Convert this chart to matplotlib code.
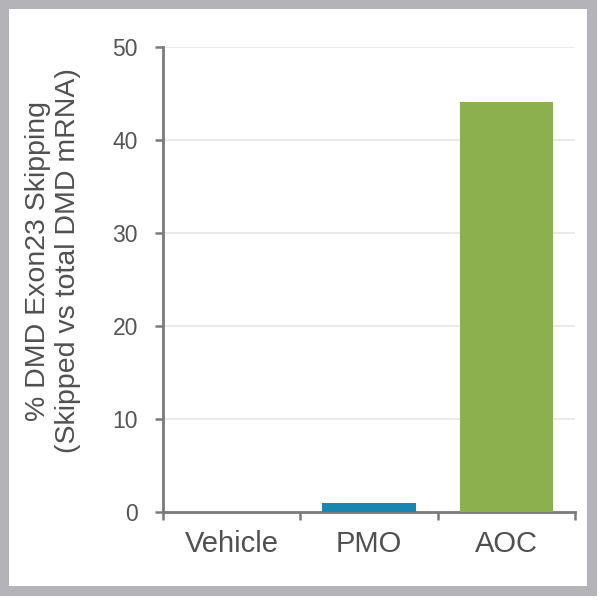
import matplotlib
matplotlib.use("Agg")
import matplotlib.pyplot as plt
from matplotlib.patches import Rectangle

categories = ["Vehicle", "PMO", "AOC"]
values = [0.0, 1.0, 44.1]
colors = ["#1a86b0", "#1a86b0", "#8db04f"]
yticks = [0, 10, 20, 30, 40, 50]
ylabel = "% DMD Exon23 Skipping\n(Skipped vs total DMD mRNA)"

plt.rcParams['font.family'] = ['Liberation Sans', 'DejaVu Sans']

fig = plt.figure(figsize=(6, 6), dpi=100)
fig.patch.set_facecolor("white")
# gray frame
fig.patches.append(Rectangle((0, 4/600), 597/600, 596/600, transform=fig.transFigure,
                             facecolor="#b4b4b8", edgecolor="none", zorder=-10))
fig.patches.append(Rectangle((9/600, 14/600), 578/600, 577/600, transform=fig.transFigure,
                             facecolor="white", edgecolor="none", zorder=-9))

ax = fig.add_axes([163/600, 1 - 512/600, 412/600, 465/600])
ax.set_facecolor("none")
x = list(range(len(categories)))
ax.bar(x, values, width=0.68, color=colors, zorder=3)

ax.set_xlim(-0.5, len(categories) - 0.5)
ax.set_ylim(0, 50)
ax.set_yticks(yticks)
ax.yaxis.grid(True, color="#e6e6e6", linewidth=1.2, zorder=0)
ax.set_axisbelow(True)

ax.set_xticks([i - 0.5 for i in range(len(categories) + 1)])
ax.set_xticklabels([])
ax.set_xticks(x, minor=True)
ax.set_xticklabels(categories, minor=True)
ax.tick_params(axis='x', which='minor', length=0, pad=13, labelsize=21, labelcolor="#505050")
ax.tick_params(axis='x', which='major', length=6, width=1.8, color="#7a7a7a", direction='out')
ax.tick_params(axis='y', length=6, width=1.8, color="#7a7a7a", direction='out',
               pad=12, labelsize=16.5, labelcolor="#555555")

for s in ["top", "right"]:
    ax.spines[s].set_visible(False)
for s in ["left", "bottom"]:
    ax.spines[s].set_color("#7a7a7a")
    ax.spines[s].set_linewidth(2)

ax.set_ylabel(ylabel, fontsize=20.5, color="#505050", linespacing=1.2)
ax.yaxis.set_label_coords(-0.198, 0.54)

fig.savefig("out.png", dpi=100)
